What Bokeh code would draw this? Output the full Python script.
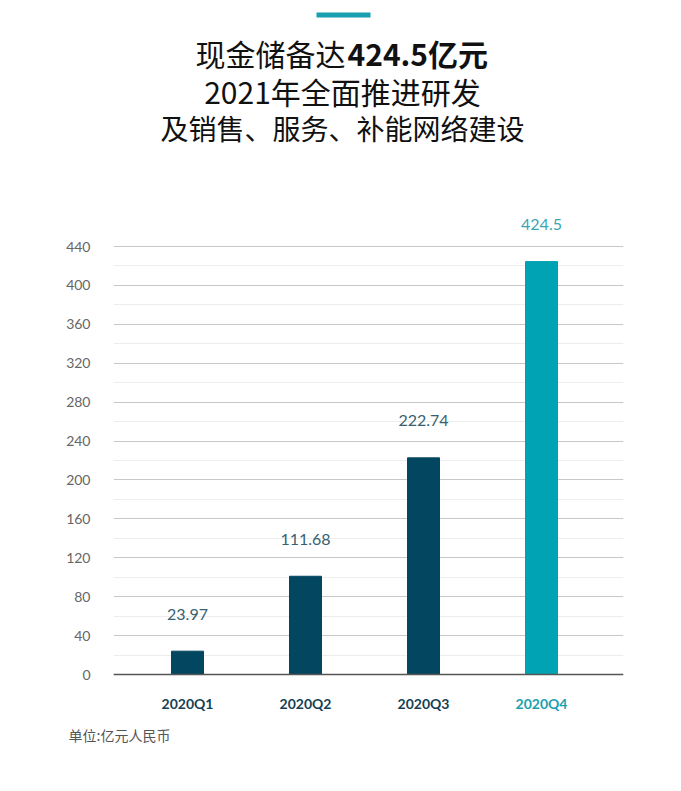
from bokeh.plotting import figure
from bokeh.models import Range1d, FixedTicker, Span, Label, BoxAnnotation, ColumnDataSource, Title
from bokeh.core.properties import value
from bokeh.embed import file_html
from bokeh.resources import INLINE

# ---- data ----
quarters = ["2020Q1", "2020Q2", "2020Q3", "2020Q4"]
bar_heights = [23.97, 101.0, 222.74, 424.5]          # heights as drawn in the picture
value_labels = ["23.97", "111.68", "222.74", "424.5"]  # printed values
bar_colors = ["#03465f", "#03465f", "#03465f", "#00a3b3"]
label_colors = ["#36616f", "#36616f", "#36616f", "#3aa6b2"]
xlabel_colors = ["#163f55", "#163f55", "#163f55", "#1c9fae"]
y_ticks = [0, 40, 80, 120, 160, 200, 240, 280, 320, 360, 400, 440]
y_minor = [20, 60, 100, 140, 180, 220, 260, 300, 340, 380, 420]

title_regular = "现金储备达"
title_bold = "424.5亿元"
title_line2 = "2021年全面推进研发"
title_line3 = "及销售、服务、补能网络建设"
unit_note = "单位:亿元人民币"

# ---- layout helpers (picture pixel -> data) ----
PX_PER_UNIT = 428.0 / 440.0
BASE_Y = 674.0
X0, DX = 187.0, 118.0
def vy(py):
    return (BASE_Y - py) / PX_PER_UNIT
def vx(px):
    return (px - X0) / DX

W, H = 665, 775
FRAME_L, FRAME_R, FRAME_T, FRAME_B = 113, 623, 0, 722
p = figure(width=W, height=H, output_backend="svg", toolbar_location=None,
           x_axis_location=None,
           x_range=Range1d(vx(FRAME_L), vx(FRAME_R)), y_range=Range1d(vy(FRAME_B), vy(FRAME_T)),
           min_border=0, min_border_left=FRAME_L, min_border_right=W - FRAME_R,
           min_border_top=FRAME_T, min_border_bottom=H - FRAME_B,
           background_fill_color="white", border_fill_color="white")
p.outline_line_color = None
p.xgrid.grid_line_color = None

yax = p.yaxis[0]
yax.ticker = FixedTicker(ticks=y_ticks, minor_ticks=y_minor)
yax.axis_line_color = None
yax.major_tick_line_color = None
yax.minor_tick_line_color = None
yax.major_label_standoff = 17
yax.major_label_text_font = "Lato"
yax.major_label_text_font_size = "14px"
yax.major_label_text_color = "#666666"

p.ygrid.grid_line_color = "#c8c8c8"
p.ygrid.grid_line_width = 1
p.ygrid.minor_grid_line_color = "#ededed"
p.ygrid.minor_grid_line_width = 1

p.add_layout(Span(location=0, dimension="width", line_color="#555555", line_width=1.5))

xs = list(range(len(quarters)))
src = ColumnDataSource(dict(x=xs, top=bar_heights, color=bar_colors,
                            lab=value_labels, lab_y=[h + 38 for h in bar_heights],
                            lab_color=label_colors, q=quarters, qcolor=xlabel_colors,
                            q_y=[vy(703)] * len(quarters)))
p.vbar(x="x", top="top", bottom=0, width=32.0 / DX, color="color", source=src)

p.text(x="x", y="lab_y", text="lab", text_color="lab_color", source=src,
       text_align="center", text_baseline="middle",
       text_font=value("Lato"), text_font_size="16px")
p.text(x="x", y="q_y", text="q", text_color="qcolor", source=src,
       text_align="center", text_baseline="middle",
       text_font=value("Lato"), text_font_size="14px", text_font_style="bold")

# ---- heading ----
p.add_layout(BoxAnnotation(left=vx(316), right=vx(370), top=vy(12), bottom=vy(17),
                           fill_color="#1a9fb0", fill_alpha=1, line_color=None))
cjk = "Noto Sans CJK SC"
p.add_layout(Label(x=vx(345), y=vy(52), text=title_regular, text_align="right",
                   text_baseline="middle", text_font=cjk, text_font_size="30px",
                   text_color="#111111"))
p.add_layout(Label(x=vx(347), y=vy(52), text=title_bold, text_align="left",
                   text_baseline="middle", text_font=cjk, text_font_size="30px",
                   text_font_style="bold", text_color="#111111"))
p.add_layout(Label(x=vx(342), y=vy(90), text=title_line2, text_align="center",
                   text_baseline="middle", text_font=cjk, text_font_size="30px",
                   text_color="#111111"))
p.add_layout(Label(x=vx(342), y=vy(127), text=title_line3, text_align="center",
                   text_baseline="middle", text_font=cjk, text_font_size="28px",
                   text_color="#111111"))

# unit note below the frame
p.add_layout(Title(text=unit_note, align="left", offset=-45, standoff=0,
                   text_font=cjk, text_font_size="14px", text_font_style="normal",
                   text_color="#555555"), "below")

open("out.html", "w").write(file_html(p, INLINE))
